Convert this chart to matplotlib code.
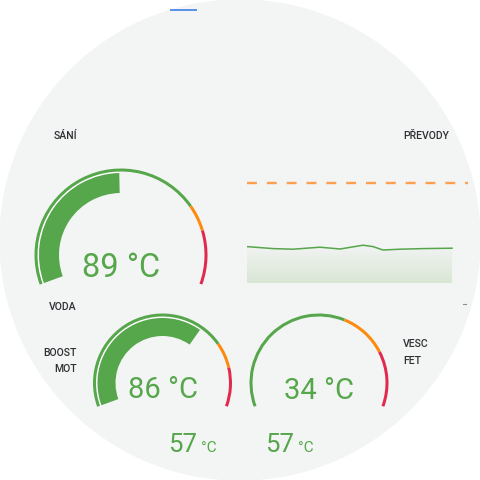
import numpy as np
import matplotlib
matplotlib.use("Agg")
import matplotlib.pyplot as plt
from matplotlib.patches import Circle, Wedge

plt.rcParams['font.family'] = ['Roboto', 'DejaVu Sans']

# ====== Data ======
gauge_values = [89, 86, 34]
gauge_min = [0, 20, 40]
gauge_max = [180, 120, 110]
gauge_orange = [135, 95, 82]
gauge_red = [150, 105, 95]

small_values = [57, 57]

trend_x = [0, 1.27, 2.24, 3.56, 4.54, 5.66, 6.15, 6.63, 7.46, 8.59, 10.0]
trend_y = [38.2, 37.2, 36.9, 37.9, 37.0, 38.9, 38.2, 36.5, 36.9, 37.2, 37.4]
trend_limit = 70

# ====== Colours ======
BG = '#f3f4f4'
GREEN = '#56a64b'
ORANGE = '#fd8a0e'
RED = '#e1294e'
LABEL = '#2e3134'

fig = plt.figure(figsize=(4.8, 4.8), dpi=100)
ax = fig.add_axes([0, 0, 1, 1])
ax.set_xlim(0, 480)
ax.set_ylim(480, 0)
ax.set_aspect('equal')
ax.axis('off')

ax.add_patch(Circle((240, 240), 240, color=BG, zorder=0))
ax.plot([170, 197], [10, 10], color='#3f7fe8', lw=1.2, solid_capstyle='butt')


def ang(f):
    # visual angle (deg, ccw) of a gauge fraction, arc spans 200 -> -20
    return 200 - 220 * f


def arc(c, r, w, f0, f1, color, z=2):
    # y axis is inverted, so flip the angles
    ax.add_patch(Wedge(c, r, -ang(f0), -ang(f1), width=w, color=color,
                       lw=0, zorder=z))


# centre, outer radius, bar inner radius, text y, font size
layout = [((121, 255), 86.5, 62, 277, 23.5),
          ((162.5, 383), 69.5, 47, 398, 21),
          ((319, 383), 69.5, 47, 399, 21)]

for i, (c, r, rin, ty, fs) in enumerate(layout):
    span = gauge_max[i] - gauge_min[i]
    fo = (gauge_orange[i] - gauge_min[i]) / span
    fr = (gauge_red[i] - gauge_min[i]) / span
    arc(c, r, 3, 0, fo, GREEN)
    arc(c, r, 3, fo, fr, ORANGE)
    arc(c, r, 3, fr, 1, RED)
    fv = (gauge_values[i] - gauge_min[i]) / span
    if fv > 0:
        fv = min(fv, 1)
        arc(c, r - 3, 1.5, 0, fv, 'white', 1)
        arc(c, r - 4.5, r - 4.5 - rin, 0, fv, GREEN, 1)
    ax.text(c[0], ty, f"{gauge_values[i]} °C", ha='center', va='baseline',
            fontsize=fs, color=GREEN)

# small readouts
for x, v in zip([168, 265], small_values):
    ax.text(x, 452.5, str(v), ha='left', va='baseline', fontsize=18.5,
            color=GREEN)
    ax.text(x + 33, 452.5, "°C", ha='left', va='baseline', fontsize=11,
            color=GREEN)

# labels
lab = dict(fontsize=7.6, color=LABEL, fontweight='medium', va='baseline')
ax.text(77, 139, "SÁNÍ", ha='right', **lab)
ax.text(77, 310, "VODA", ha='right', **lab)
ax.text(77, 356.5, "BOOST", ha='right', **lab)
ax.text(77, 372.5, "MOT", ha='right', **lab)
ax.text(403, 139, "PŘEVODY", ha='left', **lab)
ax.text(403, 347, "VESC", ha='left', **lab)
ax.text(403, 364, "FET", ha='left', **lab)
ax.plot([463, 466], [304, 304], color='#8a8f94', lw=0.8)

# ====== Trend chart ======
cax = fig.add_axes([247 / 480, (480 - 283) / 480, (468 - 247) / 480, 120 / 480])
cax.axis('off')
cax.patch.set_alpha(0)

cax.axhline(trend_limit, color='#ffa050', lw=1.7, dashes=(4.2, 4.2))
poly = cax.fill_between(trend_x, trend_y, 20, color='none', lw=0)
grad = np.zeros((100, 2, 4))
top = np.array(matplotlib.colors.to_rgb('#d8e6d4'))
bot = np.array(matplotlib.colors.to_rgb(BG))
t = np.linspace(0, 1, 100)[:, None]
grad[:, :, :3] = (top * (1 - t) + bot * t)[:, None, :]
grad[:, :, 3] = 1
im = cax.imshow(grad, extent=[0, 10, 39.5, 20], aspect='auto', origin='upper',
                zorder=1)
im.set_clip_path(poly.get_paths()[0], transform=cax.transData)
cax.plot(trend_x, trend_y, color=GREEN, lw=1.1, zorder=3)
cax.set_xlim(0, 10.78)
cax.set_ylim(20, 80)

fig.savefig("out.png", dpi=100)
